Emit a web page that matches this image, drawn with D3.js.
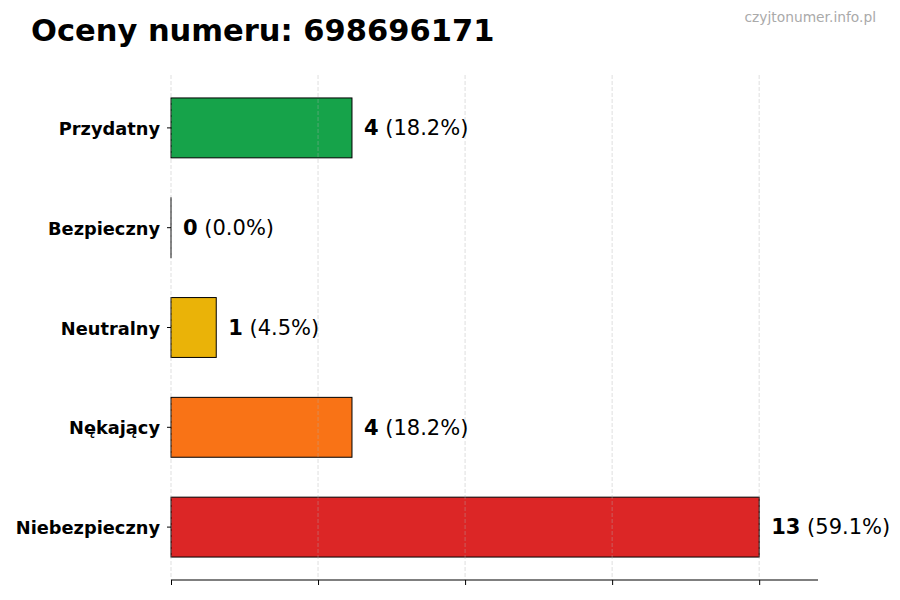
<!DOCTYPE html>
<html>
<head>
<meta charset="utf-8">
<script src="https://cdn.jsdelivr.net/npm/d3@7"></script>
<style>
  body { margin: 0; background: #fff; }
  text { font-family: "DejaVu Sans", sans-serif; }
</style>
</head>
<body>
<script>
const categories = ['Przydatny', 'Bezpieczny', 'Neutralny', 'Nękający', 'Niebezpieczny'];
const counts = [4, 0, 1, 4, 13];
const percents = ['18.2%', '0.0%', '4.5%', '18.2%', '59.1%'];
const colors = ['#16a34a', '#2563eb', '#eab308', '#f97316', '#dc2626'];
const xTicks = [0, 3.25, 6.5, 9.75, 13];

const w = 900,
      h = 600,
      plotLeft = 171,
      plotRight = 818,
      plotTop = 75,
      plotBottom = 580;

const svg = d3.select('body')
            .append('svg')
            .attr('width', w)
            .attr('height', h);

const xScale = d3.scaleLinear()
                .domain([0, d3.max(counts) * 1.1])
                .range([plotLeft, plotRight]);

const yScale = d3.scaleBand()
                .domain(categories)
                .range([plotTop, plotBottom])
                .paddingInner(0.4)
                .paddingOuter(0.23);

// bars (tiny min width so a zero bar still shows its edge)
svg.selectAll('rect.bar')
    .data(categories)
    .enter()
    .append('rect')
    .attr('class', 'bar')
    .attr('x', xScale(0))
    .attr('y', (d) => yScale(d))
    .attr('width', (d, i) => Math.max(xScale(counts[i]) - xScale(0), 0.01))
    .attr('height', yScale.bandwidth())
    .attr('fill', (d, i) => colors[i])
    .attr('stroke', '#000')
    .attr('stroke-width', 1);

// grid (drawn over bars like matplotlib)
svg.selectAll('line.grid')
    .data(xTicks)
    .enter()
    .append('line')
    .attr('class', 'grid')
    .attr('x1', (d) => xScale(d))
    .attr('x2', (d) => xScale(d))
    .attr('y1', plotTop)
    .attr('y2', plotBottom)
    .attr('stroke', '#b0b0b0')
    .attr('stroke-opacity', 0.5)
    .attr('stroke-dasharray', '4,2')
    .attr('stroke-width', 0.8);

// x axis, no labels
const xAxis = d3.axisBottom(xScale)
                .tickValues(xTicks)
                .tickSize(5)
                .tickFormat('');
const gx = svg.append('g')
    .attr('transform', 'translate(0,' + plotBottom + ')')
    .call(xAxis);
gx.select('.domain').attr('stroke', '#000').attr('stroke-width', 1.2).attr('d', 'M' + plotLeft + ',0H' + plotRight);
gx.selectAll('.tick line').attr('stroke', '#000');

// y axis: ticks + labels, no spine
const yAxis = d3.axisLeft(yScale)
                .tickSize(4)
                .tickPadding(7);
const gy = svg.append('g')
    .attr('transform', 'translate(' + plotLeft + ',0)')
    .call(yAxis);
gy.select('.domain').remove();
gy.selectAll('.tick line').attr('stroke', '#000');
gy.selectAll('.tick text')
    .attr('fill', '#000')
    .attr('dy', '0.4em')
    .style('font-family', '"DejaVu Sans", sans-serif')
    .style('font-size', '17.8px')
    .style('font-weight', 'bold');

// value labels
const labels = svg.selectAll('text.val')
    .data(categories)
    .enter()
    .append('text')
    .attr('class', 'val')
    .attr('x', (d, i) => xScale(counts[i]) + 12)
    .attr('y', (d) => yScale(d) + yScale.bandwidth() / 2)
    .attr('dy', '0.35em')
    .style('font-size', '21px');
labels.append('tspan')
    .style('font-weight', 'bold')
    .text((d, i) => counts[i]);
labels.append('tspan')
    .text((d, i) => ' (' + percents[i] + ')');

// title
svg.append('text')
    .attr('x', 31)
    .attr('y', 41)
    .style('font-size', '30.5px')
    .style('font-weight', 'bold')
    .text('Oceny numeru: 698696171');

svg.append('text')
    .attr('x', 876)
    .attr('y', 22)
    .attr('text-anchor', 'end')
    .attr('fill', '#aaa')
    .style('font-size', '13.8px')
    .text('czyjtonumer.info.pl');
</script>
</body>
</html>
